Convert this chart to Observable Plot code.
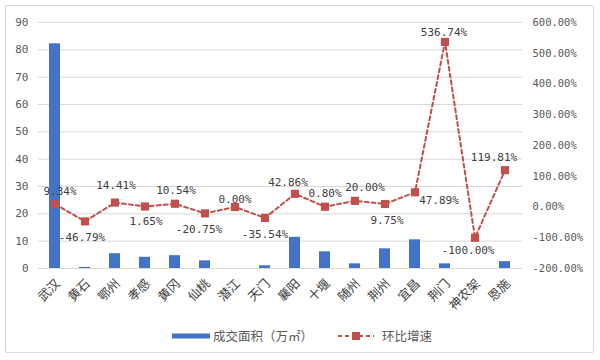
<!DOCTYPE html>
<html>
<head>
<meta charset="utf-8">
<script src="https://cdn.jsdelivr.net/npm/d3@7"></script>
<script src="https://cdn.jsdelivr.net/npm/@observablehq/plot@0.6"></script>
<style>
  html, body { margin: 0; padding: 0; background: #fff; }
  body { width: 600px; height: 360px; position: relative; overflow: hidden; }
  #frame { position: absolute; left: 5px; top: 5px; width: 589px; height: 348px; border: 1px solid #d9d9d9; border-radius: 2px; box-sizing: border-box; }
  #chart { position: absolute; left: 0; top: 0; }
  #legend { position: absolute; left: 0; top: 326px; width: 604px; display: flex; justify-content: center; align-items: center;
            font-family: "Noto Sans CJK SC", sans-serif; font-size: 12.5px; color: #595959; }
  #legend .item { display: flex; align-items: center; }
  #legend svg { display: block; }
</style>
</head>
<body>
<div id="frame"></div>
<div id="chart"></div>
<div id="legend">
  <div class="item" style="margin-right:25px">
    <svg width="38" height="18"><rect x="0" y="6.5" width="38" height="5" fill="#4472C4"></rect></svg>
    <span style="margin-left:3px">成交面积（万㎡）</span>
  </div>
  <div class="item">
    <svg width="36" height="18"><line x1="0" y1="9" x2="36" y2="9" stroke="#C0504D" stroke-width="2" stroke-dasharray="4,3"></line><rect x="14" y="5" width="8" height="8" fill="#C0504D"></rect></svg>
    <span style="margin-left:8px">环比增速</span>
  </div>
</div>
<script>
const cities = ["武汉","黄石","鄂州","孝感","黄冈","仙桃","潜江","天门","襄阳","十堰","随州","荆州","宜昌","荆门","神农架","恩施"];
const area = [82.2,0.4,5.4,4.1,4.7,2.8,0,1.0,11.4,6.1,1.7,7.2,10.5,1.7,0,2.5];
const growth = [9.34,-46.79,14.41,1.65,10.54,-20.75,0.00,-35.54,42.86,0.80,20.00,9.75,47.89,536.74,-100.00,119.81];
const leftTicks = [0,10,20,30,40,50,60,70,80,90];
const rightTicks = [-200,-100,0,100,200,300,400,500,600];

// label offsets relative to each marker [dx, dy]
const labelOffsets = [[5,-13],[-3,16],[1,-17],[1,15],[1,-13],[-6,16],[0,-8],[0,17],[-7,-11],[0,-13],[10,-13],[2,16],[24,8],[-1,-9],[-7,13],[-11,-13]];

const leftMax = 90, rMin = -200, rMax = 600;
const toLeft = p => (p - rMin) / (rMax - rMin) * leftMax;
const fmtPct = p => p.toFixed(2) + "%";

const rows = cities.map((c, i) => ({city: c, area: area[i], growth: growth[i], gl: toLeft(growth[i])}));

const numFont = "DejaVu Sans Mono, monospace";
const red = "#C0504D";

const chart = Plot.plot({
  width: 600,
  height: 320,
  marginLeft: 38,
  marginRight: 78,
  marginTop: 22,
  marginBottom: 52,
  style: {fontFamily: "Noto Sans CJK SC, sans-serif", color: "#595959", background: "transparent"},
  x: {domain: cities, type: "band", paddingInner: 0.62, paddingOuter: 0.31, label: null},
  y: {domain: [0, leftMax], label: null},
  marks: [
    Plot.gridY(leftTicks, {stroke: "#d9d9d9", strokeOpacity: 1, strokeWidth: 1}),
    Plot.axisY(leftTicks, {anchor: "left", tickSize: 0, tickPadding: 10, fontFamily: numFont, fontSize: 11, fill: "#595959", label: null}),
    Plot.axisY(rightTicks.map(toLeft), {anchor: "right", tickSize: 0, tickPadding: 10, textAnchor: "start", label: null,
      tickFormat: (d, i) => fmtPct(rightTicks[i]), fontFamily: numFont, fontSize: 10.5, fill: "#595959"}),
    Plot.axisX({tickSize: 0, tickPadding: 4, tickRotate: -45, dx: 3, dy: 9, fontSize: 12.5, fill: "#404040", label: null}),
    Plot.barY(rows, {x: "city", y: "area", fill: "#4472C4"}),
    Plot.line(rows, {x: "city", y: "gl", stroke: red, strokeWidth: 2, strokeDasharray: "4,3"}),
    Plot.dot(rows, {x: "city", y: "gl", symbol: "square", r: 4.6, fill: red, stroke: "none"}),
    ...rows.map((d, i) => Plot.text([d], {x: "city", y: "gl", text: r => fmtPct(r.growth),
      dx: labelOffsets[i][0], dy: labelOffsets[i][1], lineAnchor: "middle", textAnchor: "middle",
      fontFamily: numFont, fontSize: 11, fill: "#404040"}))
  ]
});
document.getElementById("chart").appendChild(chart);
</script>
</body>
</html>
